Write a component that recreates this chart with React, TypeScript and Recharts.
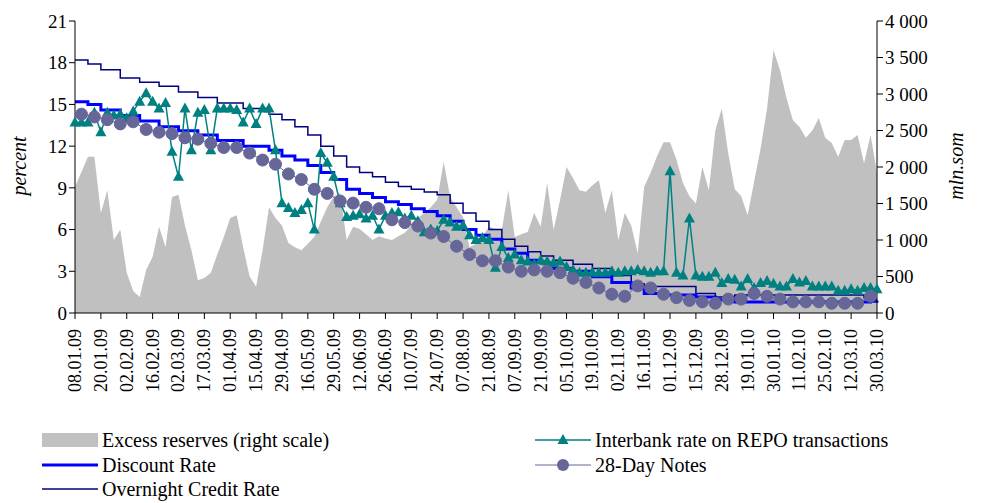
import { Area, ComposedChart, Line, XAxis, YAxis } from 'recharts';

const dateLabels = [
  '08.01.09', '20.01.09', '02.02.09', '16.02.09', '02.03.09', '17.03.09', '01.04.09', '15.04.09',
  '29.04.09', '16.05.09', '29.05.09', '12.06.09', '26.06.09', '10.07.09', '24.07.09', '07.08.09',
  '21.08.09', '07.09.09', '21.09.09', '05.10.09', '19.10.09', '02.11.09', '16.11.09', '01.12.09',
  '15.12.09', '28.12.09', '19.01.10', '30.01.10', '11.02.10', '25.02.10', '12.03.10', '30.03.10',
];

// mln som, one value per step (4 steps between date labels)
const excessReserves = [
  1730, 1930, 2140, 2140, 1370, 1680, 1000, 1140, 550, 300, 220, 590, 770, 1180, 900, 1590, 1620, 1200, 860, 450,
  480, 550, 800, 1040, 1300, 1340, 900, 500, 360, 860, 1450, 1300, 1200, 960, 900, 860, 950, 1040, 1250, 1450,
  1600, 1640, 1000, 1180, 1150, 1080, 1000, 1050, 1020, 1000, 1050, 1100, 1200, 1300, 1370, 1450, 1550, 2070, 1590, 1450,
  1310, 900, 950, 1050, 1180, 1150, 1140, 1680, 1040, 1080, 1110, 1370, 1180, 1780, 1140, 1550, 2000, 1850, 1680, 1660,
  1750, 1820, 1370, 1680, 1000, 1370, 1200, 820, 1730, 1920, 2150, 2340, 2340, 2100, 1780, 1600, 1500, 2000, 1680, 2500,
  2800, 2190, 1700, 1600, 1340, 1800, 2250, 2800, 3600, 3330, 2950, 2640, 2550, 2400, 2500, 2670, 2400, 2330, 2140, 2370,
  2370, 2440, 2050, 2440, 1920,
];

const discountRate = [
  15.2, 15.2, 15.0, 15.0, 14.6, 14.6, 14.6, 14.2, 14.2, 14.2, 13.8, 13.8, 13.8, 13.4, 13.4, 13.4, 13.1, 13.1, 13.1, 12.8,
  12.8, 12.8, 12.4, 12.4, 12.4, 12.4, 12.0, 12.0, 12.0, 12.0, 11.7, 11.7, 11.3, 11.3, 11.0, 11.0, 10.6, 10.6, 10.1, 10.1,
  9.6, 9.6, 8.9, 8.9, 8.6, 8.6, 8.3, 8.3, 8.0, 8.0, 7.8, 7.8, 7.5, 7.5, 7.3, 7.3, 7.0, 7.0, 6.6, 6.6,
  6.0, 6.0, 5.6, 5.6, 5.3, 5.3, 4.6, 4.6, 4.3, 4.3, 3.8, 3.8, 3.6, 3.6, 3.2, 3.2, 3.2, 3.0, 3.0, 3.0,
  2.6, 2.6, 2.6, 2.2, 2.2, 2.2, 1.8, 1.8, 1.4, 1.4, 1.4, 1.3, 1.3, 1.3, 1.3, 1.3, 1.15, 1.15, 1.15, 0.95,
  0.95, 0.95, 0.8, 0.8, 0.8, 0.8, 0.8, 0.8, 0.8, 0.8, 0.8, 0.8, 0.8, 0.8, 0.8, 0.8, 0.8, 0.8, 0.8, 0.8,
  0.8, 0.8, 0.8, 0.85, 0.9,
];

const overnightRate = [
  18.2, 18.2, 17.9, 17.9, 17.5, 17.5, 17.5, 16.9, 16.9, 16.9, 16.6, 16.6, 16.6, 16.3, 16.3, 16.3, 15.9, 15.9, 15.9, 15.5,
  15.5, 15.5, 15.1, 15.1, 15.1, 15.1, 14.7, 14.7, 14.7, 14.7, 14.3, 14.3, 13.9, 13.9, 13.4, 13.4, 12.8, 12.8, 12.0, 12.0,
  11.3, 11.3, 10.5, 10.5, 10.1, 10.1, 9.8, 9.8, 9.4, 9.4, 9.1, 9.1, 8.9, 8.9, 8.7, 8.7, 8.5, 8.5, 7.9, 7.9,
  7.2, 7.2, 6.6, 6.6, 6.0, 6.0, 5.3, 5.3, 4.8, 4.8, 4.4, 4.4, 4.1, 4.1, 3.8, 3.8, 3.8, 3.5, 3.5, 3.5,
  3.2, 3.2, 3.2, 2.7, 2.7, 2.7, 2.1, 2.1, 1.9, 1.9, 1.9, 1.9, 1.9, 1.9, 1.9, 1.9, 1.4, 1.4, 1.4, 1.15,
  1.15, 1.15, 1.3, 1.3, 1.3, 1.3, 1.3, 1.3, 1.3, 1.3, 1.3, 1.3, 1.3, 1.3, 1.3, 1.3, 1.3, 1.3, 1.3, 1.3,
  1.3, 1.3, 1.1, 1.0, 1.0,
];

const interbankRate = [
  13.7, 13.7, 13.7, 14.4, 13.0, 14.4, 14.2, 14.3, 14.0, 14.5, 15.2, 15.8, 15.2, 14.7, 15.1, 11.6, 9.8, 14.7, 11.7, 14.4,
  14.6, 11.7, 14.7, 14.7, 14.7, 14.6, 13.7, 14.7, 13.6, 14.7, 14.7, 11.7, 7.9, 7.55, 7.2, 7.4, 7.9, 6.0, 11.5, 10.8,
  9.8, 7.9, 6.9, 7.0, 7.1, 6.8, 7.0, 6.0, 7.0, 7.2, 7.25, 6.8, 7.0, 6.6, 5.8, 6.0, 5.9, 6.7, 6.5, 6.2,
  6.3, 5.6, 5.25, 5.4, 5.25, 3.25, 4.75, 3.95, 4.2, 3.8, 3.7, 3.5, 3.8, 3.7, 3.6, 3.7, 3.3, 3.1, 2.9, 2.9,
  2.9, 2.9, 2.9, 3.0, 2.9, 3.0, 3.0, 3.1, 3.0, 2.9, 3.0, 3.0, 10.2, 2.9, 2.7, 6.8, 2.7, 2.6, 2.6, 2.9,
  2.15, 2.45, 2.4, 1.9, 2.45, 1.8, 2.15, 2.3, 2.1, 1.9, 1.9, 2.45, 2.2, 2.3, 1.9, 1.9, 1.9, 1.9, 1.6, 1.6,
  1.7, 1.6, 1.8, 1.8, 1.7,
];

// 28-day notes, placed on every second step starting at step 1
const notesRate = [
  14.3, 14.1, 13.9, 13.6, 13.75, 13.2, 13.0, 12.9, 12.6, 12.5, 12.2, 11.9, 11.9, 11.5, 11.0, 10.7, 10.0, 9.6, 8.9, 8.6,
  8.05, 7.9, 7.6, 7.5, 6.7, 6.5, 6.25, 5.75, 5.5, 4.8, 4.2, 3.75, 3.75, 3.3, 3.0, 3.1, 3.0, 2.9, 2.5, 2.2,
  1.8, 1.35, 1.2, 1.95, 1.8, 1.35, 1.1, 0.9, 0.8, 0.7, 1.0, 1.0, 1.4, 1.2, 1.0, 0.8, 0.8, 0.8, 0.7, 0.7,
  0.7, 1.2,
];

const data = excessReserves.map((reserves, i) => ({
  i,
  reserves,
  discount: discountRate[i],
  overnight: overnightRate[i],
  interbank: interbankRate[i],
  notes: i % 2 === 1 ? notesRate[(i - 1) / 2] ?? null : null,
}));

const xTicks = dateLabels.map((_, k) => k * 4);
const font = '"Liberation Serif", "Times New Roman", serif';
const TEAL = '#008080';
const SLATE = '#666699';
const tickStyle = { fontSize: 19, fontFamily: font, fill: '#000' };

function Triangle({ cx, cy }: { cx?: number; cy?: number }) {
  if (cx == null || cy == null) return null;
  return <polygon points={`${cx},${cy - 6} ${cx - 5.5},${cy + 4} ${cx + 5.5},${cy + 4}`} fill={TEAL} />;
}

function DateTick({ x, y, payload }: { x?: number; y?: number; payload?: { value: number } }) {
  const label = dateLabels[(payload?.value ?? 0) / 4];
  return (
    <text x={x} y={y} transform={`rotate(-90, ${x}, ${(y ?? 0) + 4})`} dx={-4} dy={10}
      textAnchor="end" fontSize={18} fontFamily={font} fill="#000">
      {label}
    </text>
  );
}

const fmtMln = (v: number) => (v >= 1000 ? `${Math.floor(v / 1000)} ${String(v % 1000).padStart(3, '0')}` : String(v));

function LegendItem({ x, y, label, icon }: { x: number; y: number; label: string; icon: React.ReactNode }) {
  return (
    <div style={{ position: 'absolute', left: x, top: y, display: 'flex', alignItems: 'center', fontFamily: font, fontSize: 20, lineHeight: '22px' }}>
      <svg width={56} height={16} style={{ marginRight: 4 }}>{icon}</svg>
      {label}
    </div>
  );
}

function AxisTitle({ x, y, text }: { x: number; y: number; text: string }) {
  return (
    <text x={x} y={y} transform={`rotate(-90, ${x}, ${y})`} textAnchor="middle" dominantBaseline="central"
      fontFamily={font} fontSize={20} fontStyle="italic" fill="#000">
      {text}
    </text>
  );
}

export default function App() {
  return (
    <div style={{ position: 'relative', width: 960, height: 495 }}>
      <ComposedChart width={960} height={495} data={data} margin={{ top: 13, right: 0, bottom: 0, left: 0 }}>
        <XAxis dataKey="i" type="number" domain={[0, 124]} ticks={xTicks} tick={<DateTick />} interval={0}
          height={190} stroke="#000" tickLine={{ stroke: '#000' }} />
        <YAxis yAxisId="l" domain={[0, 21]} ticks={[0, 3, 6, 9, 12, 15, 18, 21]} width={67} stroke="#000" tick={tickStyle} />
        <YAxis yAxisId="r" orientation="right" domain={[0, 4000]} ticks={[0, 500, 1000, 1500, 2000, 2500, 3000, 3500, 4000]}
          width={91} stroke="#000" tickFormatter={fmtMln} tick={tickStyle} />
        <Area yAxisId="r" dataKey="reserves" type="linear" fill="#c0c0c0" fillOpacity={1} stroke="none" isAnimationActive={false} />
        <Line yAxisId="l" dataKey="overnight" type="stepAfter" stroke="#000080" strokeWidth={1.5} dot={false} isAnimationActive={false} />
        <Line yAxisId="l" dataKey="discount" type="stepAfter" stroke="#0000ff" strokeWidth={3} dot={false} isAnimationActive={false} />
        <Line yAxisId="l" dataKey="interbank" type="linear" stroke={TEAL} strokeWidth={1.5} dot={<Triangle />} isAnimationActive={false} />
        <Line yAxisId="l" dataKey="notes" type="linear" connectNulls stroke={SLATE} strokeWidth={1}
          dot={{ r: 6, fill: SLATE, stroke: SLATE }} isAnimationActive={false} />
      </ComposedChart>
      <svg width={960} height={495} style={{ position: 'absolute', left: 0, top: 0, pointerEvents: 'none' }}>
        <AxisTitle x={11} y={158} text="percent" />
        <AxisTitle x={948} y={158} text="mln.som" />
      </svg>
      <LegendItem x={34} y={421} label="Excess reserves (right scale)" icon={<rect x={0} y={1} width={56} height={14} fill="#c0c0c0" />} />
      <LegendItem x={34} y={446} label="Discount Rate" icon={<line x1={0} y1={8} x2={56} y2={8} stroke="#0000ff" strokeWidth={3} />} />
      <LegendItem x={34} y={470} label="Overnight Credit Rate" icon={<line x1={0} y1={8} x2={56} y2={8} stroke="#000080" strokeWidth={1.5} />} />
      <LegendItem x={527} y={421} label="Interbank rate on REPO transactions"
        icon={<g><line x1={0} y1={8} x2={56} y2={8} stroke={TEAL} strokeWidth={1.5} /><polygon points="28,2 22.5,12 33.5,12" fill={TEAL} /></g>} />
      <LegendItem x={527} y={446} label="28-Day Notes"
        icon={<g><line x1={0} y1={8} x2={56} y2={8} stroke={SLATE} strokeWidth={1} /><circle cx={28} cy={8} r={6} fill={SLATE} /></g>} />
    </div>
  );
}
